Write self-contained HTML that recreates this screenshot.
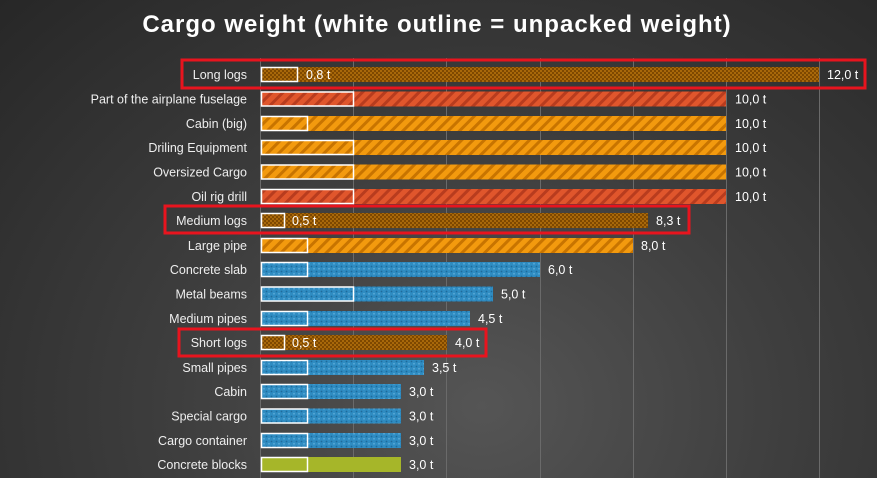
<!DOCTYPE html>
<html><head><style>
body{margin:0;width:877px;height:478px;overflow:hidden;background:radial-gradient(ellipse at 55% 85%,#555 0%,#3e3e3e 45%,#272727 100%);}
svg{display:block;font-family:"Liberation Sans",sans-serif;}
</style></head><body>
<svg width="877" height="478" xmlns="http://www.w3.org/2000/svg">
<defs>
<pattern id="logs" width="4" height="4" patternUnits="userSpaceOnUse"><rect width="4" height="4" fill="#a8680a"/><rect width="2" height="2" fill="#7e4800"/><rect x="2" y="2" width="2" height="2" fill="#7e4800"/></pattern>
<pattern id="red" width="8" height="8" patternUnits="userSpaceOnUse" patternTransform="rotate(45)"><rect width="8" height="8" fill="#e0562c"/><rect width="3" height="8" fill="#b83c1e"/></pattern>
<pattern id="org" width="8" height="8" patternUnits="userSpaceOnUse" patternTransform="rotate(45)"><rect width="8" height="8" fill="#f39a0e"/><rect width="3" height="8" fill="#c87400"/></pattern>
<pattern id="blue" width="5" height="5" patternUnits="userSpaceOnUse"><rect width="5" height="5" fill="#2f8cc2"/><circle cx="1.5" cy="1.5" r="0.9" fill="#1f6a9a"/><circle cx="4" cy="3.8" r="0.9" fill="#5aaad8"/></pattern>
</defs>
<text x="437" y="32" text-anchor="middle" fill="#fff" font-size="24" font-weight="bold" letter-spacing="1">Cargo weight (white outline = unpacked weight)</text>
<g stroke="#6a6a6a" stroke-width="1">
<line x1="260.5" y1="58" x2="260.5" y2="478"/><line x1="353.5" y1="58" x2="353.5" y2="478"/><line x1="446.5" y1="58" x2="446.5" y2="478"/><line x1="540.5" y1="58" x2="540.5" y2="478"/><line x1="633.5" y1="58" x2="633.5" y2="478"/><line x1="726.5" y1="58" x2="726.5" y2="478"/><line x1="819.5" y1="58" x2="819.5" y2="478"/>
</g>
<g font-size="12.5" fill="#eee">
<g text-anchor="end">
<text x="247" y="79">Long logs</text>
<text x="247" y="103.5">Part of the airplane fuselage</text>
<text x="247" y="128">Cabin (big)</text>
<text x="247" y="152">Driling Equipment</text>
<text x="247" y="176.5">Oversized Cargo</text>
<text x="247" y="201">Oil rig drill</text>
<text x="247" y="225">Medium logs</text>
<text x="247" y="250">Large pipe</text>
<text x="247" y="274">Concrete slab</text>
<text x="247" y="298.5">Metal beams</text>
<text x="247" y="323">Medium pipes</text>
<text x="247" y="347">Short logs</text>
<text x="247" y="372">Small pipes</text>
<text x="247" y="396">Cabin</text>
<text x="247" y="420.5">Special cargo</text>
<text x="247" y="445">Cargo container</text>
<text x="247" y="469">Concrete blocks</text>
</g>
</g>
<g>
<rect x="261" y="67" width="558" height="15" fill="url(#logs)"/>
<rect x="261" y="91.5" width="465" height="15" fill="url(#red)"/>
<rect x="261" y="116" width="465" height="15" fill="url(#org)"/>
<rect x="261" y="140" width="465" height="15" fill="url(#org)"/>
<rect x="261" y="164.5" width="465" height="15" fill="url(#org)"/>
<rect x="261" y="189" width="465" height="15" fill="url(#red)"/>
<rect x="261" y="213" width="387" height="15" fill="url(#logs)"/>
<rect x="261" y="238" width="372" height="15" fill="url(#org)"/>
<rect x="261" y="262" width="279" height="15" fill="url(#blue)"/>
<rect x="261" y="286.5" width="232" height="15" fill="url(#blue)"/>
<rect x="261" y="311" width="209" height="15" fill="url(#blue)"/>
<rect x="261" y="335" width="186" height="15" fill="url(#logs)"/>
<rect x="261" y="360" width="163" height="15" fill="url(#blue)"/>
<rect x="261" y="384" width="140" height="15" fill="url(#blue)"/>
<rect x="261" y="408.5" width="140" height="15" fill="url(#blue)"/>
<rect x="261" y="433" width="140" height="15" fill="url(#blue)"/>
<rect x="261" y="457" width="140" height="15" fill="#a6b629"/>
</g>
<g fill="none" stroke="#fff" stroke-width="1.5">
<rect x="261.5" y="67.5" width="36" height="14"/>
<rect x="261.5" y="92" width="92" height="14"/>
<rect x="261.5" y="116.5" width="46" height="14"/>
<rect x="261.5" y="140.5" width="92" height="14"/>
<rect x="261.5" y="165" width="92" height="14"/>
<rect x="261.5" y="189.5" width="92" height="14"/>
<rect x="261.5" y="213.5" width="23" height="14"/>
<rect x="261.5" y="238.5" width="46" height="14"/>
<rect x="261.5" y="262.5" width="46" height="14"/>
<rect x="261.5" y="287" width="92" height="14"/>
<rect x="261.5" y="311.5" width="46" height="14"/>
<rect x="261.5" y="335.5" width="23" height="14"/>
<rect x="261.5" y="360.5" width="46" height="14"/>
<rect x="261.5" y="384.5" width="46" height="14"/>
<rect x="261.5" y="409" width="46" height="14"/>
<rect x="261.5" y="433.5" width="46" height="14"/>
<rect x="261.5" y="457.5" width="46" height="14"/>
</g>
<g font-size="12.5" fill="#fff">
<text x="306" y="79">0,8 t</text>
<text x="292" y="225">0,5 t</text>
<text x="292" y="347">0,5 t</text>
<text x="827" y="79">12,0 t</text>
<text x="735" y="103.5">10,0 t</text>
<text x="735" y="128">10,0 t</text>
<text x="735" y="152">10,0 t</text>
<text x="735" y="176.5">10,0 t</text>
<text x="735" y="201">10,0 t</text>
<text x="656" y="225">8,3 t</text>
<text x="641" y="250">8,0 t</text>
<text x="548" y="274">6,0 t</text>
<text x="501" y="298.5">5,0 t</text>
<text x="478" y="323">4,5 t</text>
<text x="455" y="347">4,0 t</text>
<text x="432" y="372">3,5 t</text>
<text x="409" y="396">3,0 t</text>
<text x="409" y="420.5">3,0 t</text>
<text x="409" y="445">3,0 t</text>
<text x="409" y="469">3,0 t</text>
</g>
<g fill="none" stroke="#e8141e" stroke-width="3">
<rect x="182" y="60" width="683" height="28"/>
<rect x="165" y="206" width="524" height="27"/>
<rect x="179" y="329" width="307" height="27"/>
</g>
</svg>
</body></html>
